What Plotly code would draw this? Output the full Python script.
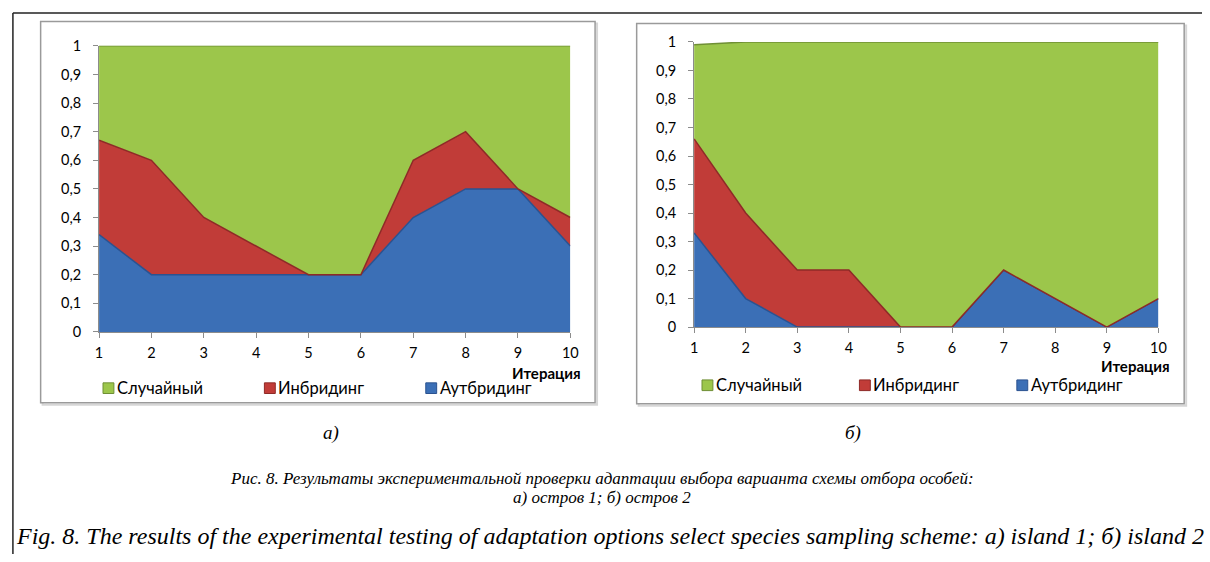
import plotly.graph_objects as go

# Iterations of the genetic algorithm
iterations = [1, 2, 3, 4, 5, 6, 7, 8, 9, 10]

# Island 1: share of each selection scheme per iteration
isl1_outbreeding = [0.34, 0.20, 0.20, 0.20, 0.20, 0.20, 0.40, 0.50, 0.50, 0.30]
isl1_inbreeding = [0.33, 0.40, 0.20, 0.10, 0.00, 0.00, 0.20, 0.20, 0.00, 0.10]
isl1_random = [0.33, 0.40, 0.60, 0.70, 0.80, 0.80, 0.40, 0.30, 0.50, 0.60]

# Island 2
isl2_outbreeding = [0.33, 0.10, 0.00, 0.00, 0.00, 0.00, 0.20, 0.10, 0.00, 0.10]
isl2_inbreeding = [0.33, 0.30, 0.20, 0.20, 0.00, 0.00, 0.00, 0.00, 0.00, 0.00]
isl2_random = [0.33, 0.60, 0.80, 0.80, 1.00, 1.00, 0.80, 0.90, 1.00, 0.90]

series_names = ["Случайный", "Инбридинг", "Аутбридинг"]
y_ticks = [0, 0.1, 0.2, 0.3, 0.4, 0.5, 0.6, 0.7, 0.8, 0.9, 1]
y_tick_labels = ["0", "0,1", "0,2", "0,3", "0,4", "0,5", "0,6", "0,7", "0,8", "0,9", "1"]
x_title = "Итерация"
panel_labels = ["а)", "б)"]
caption_ru = ["Рис. 8. Результаты экспериментальной проверки адаптации выбора варианта схемы отбора особей:",
              "а) остров 1; б) остров 2"]
caption_en = "Fig. 8. The results of the experimental testing of adaptation options select species sampling scheme: а) island 1; б) island 2"

W, H = 1210, 562
COL = {"Случайный": "#9cc64b", "Инбридинг": "#c13c38", "Аутбридинг": "#3b6fb6"}
EDGE = {"Случайный": "#6f8f35", "Инбридинг": "#8e2a27", "Аутбридинг": "#2b5290"}
CHART_FONT = "Lato, 'Open Sans', sans-serif"
SERIF = "'Liberation Serif', 'Times New Roman', 'DejaVu Serif', serif"


def px(x):
    return x / W


def py(y):
    return 1 - y / H


fig = go.Figure()

panels = [
    dict(data={"Аутбридинг": isl1_outbreeding, "Инбридинг": isl1_inbreeding, "Случайный": isl1_random},
         xa="x", ya="y", xd=(96, 572), yd=(38, 333), box=(37, 13, 597, 406),
         title_pos=(585, 375), legend_x=[100, 263, 426], legend_y=391, label_x=330),
    dict(data={"Аутбридинг": isl2_outbreeding, "Инбридинг": isl2_inbreeding, "Случайный": isl2_random},
         xa="x2", ya="y2", xd=(697, 1166), yd=(34, 328), box=(639, 15, 1192, 407),
         title_pos=(1180, 368), legend_x=[705, 864, 1023], legend_y=388, label_x=857),
]

shapes = []
annotations = []

for i, p in enumerate(panels):
    # stacked areas, bottom to top
    for name in ["Аутбридинг", "Инбридинг", "Случайный"]:
        fig.add_trace(go.Scatter(
            x=iterations, y=p["data"][name], name=name, mode="lines",
            stackgroup=f"s{i}", line=dict(color=EDGE[name], width=1.5),
            fillcolor=COL[name], xaxis=p["xa"], yaxis=p["ya"], showlegend=False,
            hoveron="points+fills",
        ))

    sfx = "" if i == 0 else "2"
    axis_common = dict(showline=True, linecolor="#8c8c8c", linewidth=1, ticks="outside",
                       tickcolor="#8c8c8c", ticklen=5, showgrid=False, zeroline=False,
                       tickfont=dict(family=CHART_FONT, size=14.5, color="#000000"))
    fig.update_layout(**{
        f"xaxis{sfx}": dict(domain=[px(p["xd"][0]), px(p["xd"][1])], range=[1, 10],
                             tickvals=iterations, anchor=f"y{sfx}", ticklabelstandoff=3,
                             **axis_common),
        f"yaxis{sfx}": dict(domain=[py(p["yd"][1]), py(p["yd"][0])], range=[0, 1],
                             tickvals=y_ticks, ticktext=y_tick_labels, anchor=f"x{sfx}",
                             ticklabelstandoff=9, **axis_common),
    })

    # chart frame with a soft shadow
    x0, y0, x1, y1 = p["box"]
    shapes.append(dict(type="rect", xref="paper", yref="paper",
                       x0=px(x0 + 2), y0=py(y1 + 2), x1=px(x1 + 2), y1=py(y0 + 2),
                       line=dict(color="#d6d6d6", width=2), layer="below"))
    shapes.append(dict(type="rect", xref="paper", yref="paper",
                       x0=px(x0), y0=py(y1), x1=px(x1), y1=py(y0),
                       line=dict(color="#9a9a9a", width=1.5), fillcolor="white", layer="below"))

    annotations.append(dict(text=f"<b>{x_title}</b>", xref="paper", yref="paper",
                            x=px(p["title_pos"][0]), y=py(p["title_pos"][1]),
                            xanchor="right", yanchor="middle", showarrow=False,
                            font=dict(family=CHART_FONT, size=15, color="#000000")))

    # legend: square swatches with labels
    for name, lx in zip(series_names, p["legend_x"]):
        ly = p["legend_y"]
        shapes.append(dict(type="rect", xref="paper", yref="paper",
                           x0=px(lx), y0=py(ly + 5.5), x1=px(lx + 11), y1=py(ly - 5.5),
                           line=dict(color=EDGE[name], width=1), fillcolor=COL[name]))
        annotations.append(dict(text=name, xref="paper", yref="paper",
                                x=px(lx + 12), y=py(ly), xanchor="left", yanchor="middle",
                                showarrow=False,
                                font=dict(family=CHART_FONT, size=16.5, color="#000000")))

    annotations.append(dict(text=f"<i>{panel_labels[i]}</i>", xref="paper", yref="paper",
                            x=px(p["label_x"]), y=py(437), xanchor="center", yanchor="middle",
                            showarrow=False,
                            font=dict(family=SERIF, size=19, color="#000000")))

# captions
cap_font = dict(family=SERIF, size=17, color="#000000")
annotations.append(dict(text=f"<i>{caption_ru[0]}</i>", xref="paper", yref="paper",
                        x=px(604), y=py(484), xanchor="center", yanchor="middle",
                        showarrow=False, font=cap_font))
annotations.append(dict(text=f"<i>{caption_ru[1]}</i>", xref="paper", yref="paper",
                        x=px(604), y=py(504), xanchor="center", yanchor="middle",
                        showarrow=False, font=cap_font))
annotations.append(dict(text=f"<i>{caption_en}</i>", xref="paper", yref="paper",
                        x=px(10), y=py(543), xanchor="left", yanchor="middle",
                        showarrow=False, font=dict(family=SERIF, size=24, color="#000000")))

# page frame: top rule and left rule
shapes.append(dict(type="line", xref="paper", yref="paper", x0=px(9), y0=py(4), x1=1, y1=py(4),
                   line=dict(color="#222222", width=1.5)))
shapes.append(dict(type="line", xref="paper", yref="paper", x0=px(9), y0=py(4), x1=px(9), y1=0,
                   line=dict(color="#222222", width=1.5)))

fig.update_layout(width=W, height=H, margin=dict(l=0, r=0, t=0, b=0),
                  paper_bgcolor="white", plot_bgcolor="white",
                  shapes=shapes, annotations=annotations, showlegend=False)

fig.write_html("out.html")
